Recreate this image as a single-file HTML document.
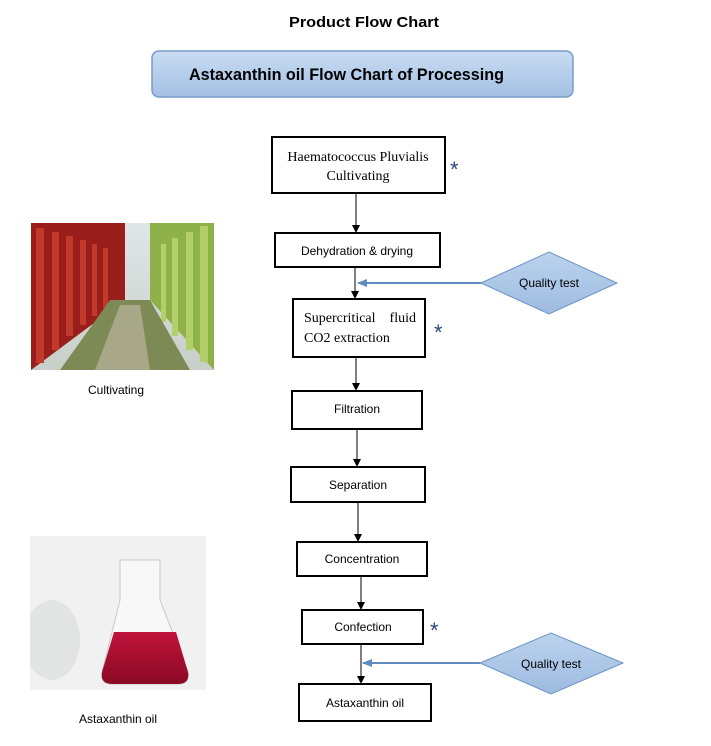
<!DOCTYPE html>
<html><head><style>body{margin:0;background:#fff}svg{display:block}</style></head><body>
<svg width="711" height="746" viewBox="0 0 711 746" xmlns="http://www.w3.org/2000/svg" font-family="Liberation Sans, sans-serif">
<defs>
<linearGradient id="hg" x1="0" y1="0" x2="0" y2="1"><stop offset="0" stop-color="#c9dcf2"/><stop offset="1" stop-color="#a3c0e4"/></linearGradient>
<linearGradient id="dg" x1="0" y1="0" x2="0" y2="1"><stop offset="0" stop-color="#bcd3ee"/><stop offset="1" stop-color="#9dbbe0"/></linearGradient>
<marker id="ab" markerWidth="8" markerHeight="8" refX="7" refY="4" orient="auto" markerUnits="userSpaceOnUse"><path d="M0,0 L8,4 L0,8z" fill="#000"/></marker>
<marker id="abl" markerWidth="10" markerHeight="8" refX="9" refY="4" orient="auto" markerUnits="userSpaceOnUse"><path d="M0,0 L10,4 L0,8z" fill="#5f8cc0"/></marker>
<linearGradient id="sky" x1="0" y1="0" x2="0" y2="1"><stop offset="0" stop-color="#dfe6e8"/><stop offset="1" stop-color="#c8cfc8"/></linearGradient>
<linearGradient id="liq" x1="0" y1="0" x2="0" y2="1"><stop offset="0" stop-color="#c0123a"/><stop offset="1" stop-color="#8a0a25"/></linearGradient>
<clipPath id="c2"><rect x="30" y="536" width="176" height="154"/></clipPath>
</defs>
<text x="289" y="27" font-size="15" font-weight="bold" textLength="150" lengthAdjust="spacingAndGlyphs">Product Flow Chart</text>
<rect x="152" y="51" width="421" height="46" rx="7" fill="url(#hg)" stroke="#7a9cc8" stroke-width="1.5"/>
<text x="189" y="80" font-size="17" font-weight="bold" textLength="315" lengthAdjust="spacingAndGlyphs">Astaxanthin oil Flow Chart of Processing</text>

<g fill="#fff" stroke="#000" stroke-width="2">
<rect x="272" y="137" width="173" height="56"/>
<rect x="275" y="233" width="165" height="34"/>
<rect x="293" y="299" width="132" height="58"/>
<rect x="292" y="391" width="130" height="38"/>
<rect x="291" y="467" width="134" height="35"/>
<rect x="297" y="542" width="130" height="34"/>
<rect x="302" y="610" width="121" height="34"/>
<rect x="299" y="684" width="132" height="37"/>
</g>
<g stroke="#000" stroke-width="1" marker-end="url(#ab)">
<line x1="356" y1="193" x2="356" y2="232"/>
<line x1="355" y1="267" x2="355" y2="298"/>
<line x1="356" y1="357" x2="356" y2="390"/>
<line x1="357" y1="429" x2="357" y2="466"/>
<line x1="358" y1="502" x2="358" y2="541"/>
<line x1="361" y1="576" x2="361" y2="609"/>
<line x1="361" y1="644" x2="361" y2="683"/>
</g>
<g stroke="#5f8cc0" stroke-width="2" marker-end="url(#abl)">
<line x1="481" y1="283" x2="358" y2="283"/>
<line x1="480" y1="663" x2="363" y2="663"/>
</g>
<polygon points="481,283 549,252 617,283 549,314" fill="url(#dg)" stroke="#6b93c4"/>
<polygon points="480,663 551,633 623,663 551,694" fill="url(#dg)" stroke="#6b93c4"/>
<g font-size="12" text-anchor="middle">
<text x="549" y="287">Quality test</text>
<text x="551" y="668">Quality test</text>
<text x="357" y="255">Dehydration &amp; drying</text>
<text x="357" y="413">Filtration</text>
<text x="358" y="489">Separation</text>
<text x="362" y="563">Concentration</text>
<text x="363" y="631">Confection</text>
<text x="365" y="707">Astaxanthin oil</text>
<text x="116" y="394">Cultivating</text>
<text x="118" y="723">Astaxanthin oil</text>
</g>
<g font-family="Liberation Serif, serif" font-size="14">
<text x="358" y="161" text-anchor="middle">Haematococcus Pluvialis</text>
<text x="358" y="180" text-anchor="middle">Cultivating</text>
<text x="304" y="322">Supercritical</text><text x="416" y="322" text-anchor="end">fluid</text>
<text x="304" y="342">CO2 extraction</text>
</g>
<g fill="#2a4a7a" font-size="22"><text x="450" y="177">*</text><text x="434" y="340">*</text><text x="430" y="638">*</text></g>

<!-- photo 1 -->
<rect x="31" y="223" width="183" height="147" fill="url(#sky)"/>
<polygon points="31,223 125,223 125,300 31,370" fill="#9a1f1c"/>
<g fill="#c23a2c"><rect x="36" y="228" width="8" height="135"/><rect x="52" y="232" width="7" height="118"/><rect x="66" y="236" width="7" height="100"/><rect x="80" y="240" width="6" height="85"/><rect x="92" y="244" width="5" height="72"/><rect x="103" y="248" width="5" height="60"/></g>
<polygon points="150,223 214,223 214,370 150,300" fill="#8fb14a"/>
<g fill="#b3cf6a"><rect x="200" y="226" width="8" height="136"/><rect x="186" y="232" width="7" height="118"/><rect x="172" y="238" width="6" height="98"/><rect x="161" y="244" width="5" height="78"/></g>
<polygon points="110,300 150,300 190,370 60,370" fill="#7d8a55"/>
<polygon points="120,305 140,305 150,370 95,370" fill="#a8a888"/>
<!-- photo 2 -->
<g clip-path="url(#c2)">
<rect x="30" y="536" width="176" height="154" fill="#f1f1f1"/>
<ellipse cx="52" cy="640" rx="28" ry="40" fill="#e2e4e4"/>
<path d="M120,560 L160,560 L160,600 L188,672 Q190,684 178,684 L112,684 Q100,684 102,672 L120,600 Z" fill="#f8f8f8" stroke="#c8c8c8"/>
<path d="M114,632 L176,632 L188,672 Q190,684 178,684 L112,684 Q100,684 102,672 Z" fill="url(#liq)"/>
</g>
</svg>
</body></html>
